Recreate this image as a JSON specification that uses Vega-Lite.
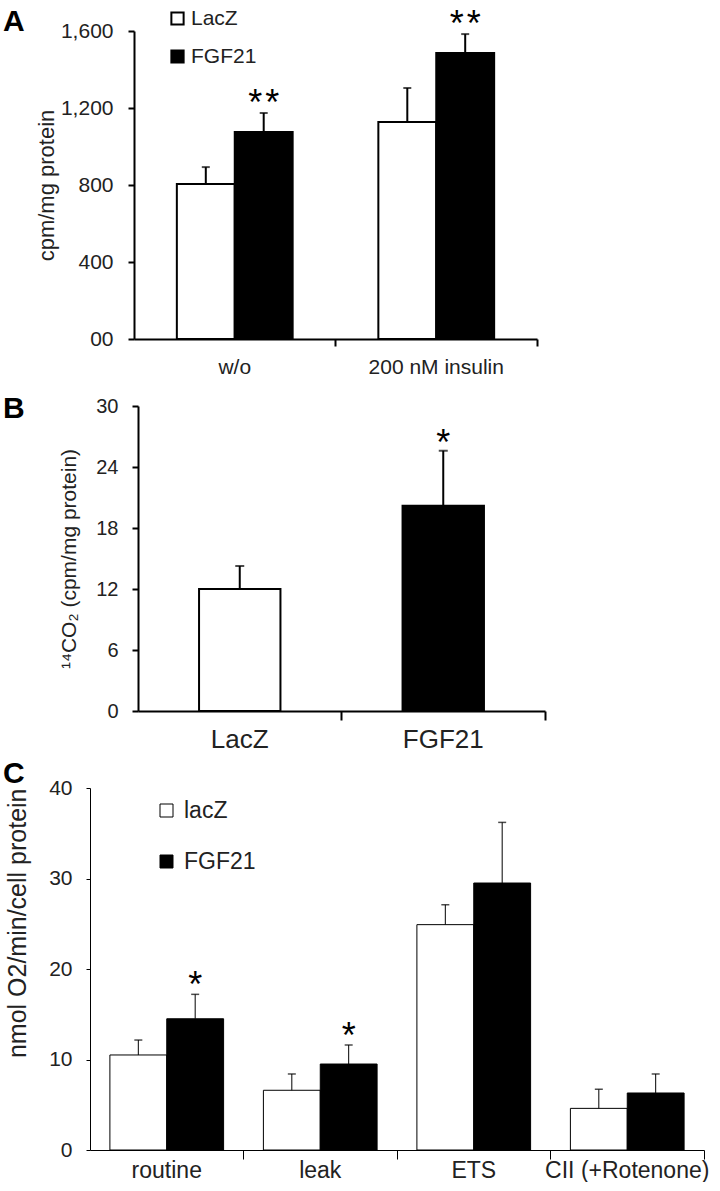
{
  "$schema": "https://vega.github.io/schema/vega-lite/v6.json",
  "padding": {"left": 3, "top": 0, "right": 0, "bottom": 0},
  "background": "white",
  "config": {
    "font": "Liberation Sans",
    "view": {"stroke": null},
    "axis": {"labelFont": "Liberation Sans", "titleFont": "Liberation Sans", "labelColor": "#222", "titleColor": "#222", "domainColor": "black", "tickColor": "black", "grid": false, "titleFontWeight": "normal"},
    "legend": {"labelFont": "Liberation Sans", "labelColor": "#222", "padding": 0},
    "title": {"font": "Liberation Sans", "fontWeight": "bold", "fontSize": 30, "anchor": "start", "frame": "group", "offset": 0, "color": "black"}
  },
  "resolve": {"scale": {"fill": "independent", "xOffset": "independent"}, "legend": {"fill": "independent"}},
  "columns": 1,
  "align": "none",
  "spacing": 0,
  "concat": [
    {
      "title": {"text": "A", "dx": -87, "dy": 41},
      "width": 447,
      "height": 339,
      "data": {"values": [
        {"cond": "w/o", "group": "LacZ", "mean": 805, "upper": 893, "sig": ""},
        {"cond": "w/o", "group": "FGF21", "mean": 1075, "upper": 1174, "sig": "*\u200a*"},
        {"cond": "200 nM insulin", "group": "LacZ", "mean": 1127, "upper": 1304, "sig": ""},
        {"cond": "200 nM insulin", "group": "FGF21", "mean": 1486, "upper": 1584, "sig": "*\u200a*"}
      ]},
      "encoding": {
        "x": {"field": "cond", "type": "nominal", "sort": ["w/o", "200 nM insulin"], "scale": {"paddingInner": 0, "paddingOuter": 0, "range": [44, 447]},
              "axis": {"title": null, "labelAngle": 0, "bandPosition": 1, "labelFontSize": 21, "tickSize": 7, "labelPadding": 10, "domainWidth": 2, "tickWidth": 2}},
        "xOffset": {"field": "group", "type": "nominal", "sort": ["LacZ", "FGF21"], "scale": {"paddingInner": 0, "paddingOuter": 0.74}}
      },
      "layer": [
        {"mark": {"type": "bar", "stroke": "black", "strokeWidth": 2},
         "encoding": {
           "y": {"field": "mean", "type": "quantitative", "scale": {"domain": [0, 1600], "nice": false, "range": [339, 31]},
                 "axis": {"values": [0, 400, 800, 1200, 1600], "offset": -44, "labelExpr": "datum.value == 0 ? '00' : format(datum.value, ',')", "title": "cpm/mg protein", "titleFontSize": 22, "labelFontSize": 21, "tickSize": 6, "labelPadding": 15, "titlePadding": 2, "domainWidth": 2, "tickWidth": 2}},
           "fill": {"field": "group", "type": "nominal", "scale": {"domain": ["LacZ", "FGF21"], "range": ["white", "black"]},
                    "legend": {"orient": "none", "legendX": 77, "legendY": 8, "title": null, "symbolType": "square", "symbolSize": 150, "symbolStrokeColor": "black", "symbolStrokeWidth": 2, "labelFontSize": 21, "rowPadding": 16, "labelOffset": 3}}
         }},
        {"mark": {"type": "rule", "strokeWidth": 2, "color": "black"},
         "encoding": {"y": {"field": "mean", "type": "quantitative"}, "y2": {"field": "upper"}}},
        {"mark": {"type": "tick", "orient": "horizontal", "size": 8, "thickness": 2, "color": "black"},
         "encoding": {"y": {"field": "upper", "type": "quantitative"}}},
        {"mark": {"type": "text", "fontSize": 36, "baseline": "alphabetic", "dy": 2, "color": "black"},
         "encoding": {"y": {"field": "upper", "type": "quantitative"}, "text": {"field": "sig"}}}
      ]
    },
    {
      "title": {"text": "B", "dx": -87, "dy": 51},
      "width": 455,
      "height": 334,
      "data": {"values": [
        {"group": "LacZ", "mean": 12.0, "upper": 14.26, "sig": ""},
        {"group": "FGF21", "mean": 20.2, "upper": 25.6, "sig": "*"}
      ]},
      "encoding": {
        "x": {"field": "group", "type": "nominal", "sort": ["LacZ", "FGF21"], "scale": {"paddingInner": 0, "paddingOuter": 0, "range": [48, 455]},
              "axis": {"title": null, "labelAngle": 0, "bandPosition": 1, "labelFontSize": 26, "tickSize": 9, "labelPadding": 6, "domainWidth": 2, "tickWidth": 2}}
      },
      "layer": [
        {"mark": {"type": "bar", "stroke": "black", "strokeWidth": 2, "width": {"band": 0.4}},
         "encoding": {
           "y": {"field": "mean", "type": "quantitative", "scale": {"domain": [0, 30], "nice": false, "range": [334, 29]},
                 "axis": {"values": [0, 6, 12, 18, 24, 30], "offset": -48, "title": "¹⁴CO₂ (cpm/mg protein)", "titleFontSize": 21, "labelFontSize": 20, "tickSize": 6, "labelPadding": 14, "titlePadding": 16, "domainWidth": 2, "tickWidth": 2}},
           "fill": {"field": "group", "type": "nominal", "scale": {"domain": ["LacZ", "FGF21"], "range": ["white", "black"]}, "legend": null}
         }},
        {"mark": {"type": "rule", "strokeWidth": 2, "color": "black"},
         "encoding": {"y": {"field": "mean", "type": "quantitative"}, "y2": {"field": "upper"}}},
        {"mark": {"type": "tick", "orient": "horizontal", "size": 9, "thickness": 2, "color": "black"},
         "encoding": {"y": {"field": "upper", "type": "quantitative"}}},
        {"mark": {"type": "text", "fontSize": 36, "baseline": "alphabetic", "dy": 4, "color": "black"},
         "encoding": {"y": {"field": "upper", "type": "quantitative"}, "text": {"field": "sig"}}}
      ]
    },
    {
      "title": {"text": "C", "dx": -87, "dy": 41},
      "width": 614,
      "height": 398,
      "data": {"values": [
        {"cond": "routine", "group": "lacZ", "mean": 10.5, "upper": 12.15, "sig": ""},
        {"cond": "routine", "group": "FGF21", "mean": 14.5, "upper": 17.2, "sig": "*"},
        {"cond": "leak", "group": "lacZ", "mean": 6.6, "upper": 8.4, "sig": ""},
        {"cond": "leak", "group": "FGF21", "mean": 9.5, "upper": 11.6, "sig": "*"},
        {"cond": "ETS", "group": "lacZ", "mean": 24.9, "upper": 27.1, "sig": ""},
        {"cond": "ETS", "group": "FGF21", "mean": 29.5, "upper": 36.2, "sig": ""},
        {"cond": "CII (+Rotenone)", "group": "lacZ", "mean": 4.6, "upper": 6.7, "sig": ""},
        {"cond": "CII (+Rotenone)", "group": "FGF21", "mean": 6.3, "upper": 8.4, "sig": ""}
      ]},
      "encoding": {
        "x": {"field": "cond", "type": "nominal", "sort": ["routine", "leak", "ETS", "CII (+Rotenone)"], "scale": {"paddingInner": 0, "paddingOuter": 0},
              "axis": {"title": null, "labelAngle": 0, "bandPosition": 1, "labelFontSize": 23, "tickSize": 9, "labelPadding": 0, "domainWidth": 1, "tickWidth": 1}},
        "xOffset": {"field": "group", "type": "nominal", "sort": ["lacZ", "FGF21"], "scale": {"paddingInner": 0, "paddingOuter": 0.35}}
      },
      "layer": [
        {"mark": {"type": "bar", "stroke": "black", "strokeWidth": 1},
         "encoding": {
           "y": {"field": "mean", "type": "quantitative", "scale": {"domain": [0, 40], "nice": false, "range": [398, 36]},
                 "axis": {"values": [0, 10, 20, 30, 40], "title": "nmol  O2/min/cell  protein", "titleFontSize": 25, "titleAnchor": "end", "labelFontSize": 21, "tickSize": 4, "labelPadding": 14, "titlePadding": 18, "domainWidth": 1, "tickWidth": 1}},
           "fill": {"field": "group", "type": "nominal", "scale": {"domain": ["lacZ", "FGF21"], "range": ["white", "black"]},
                    "legend": {"orient": "none", "legendX": 65, "legendY": 47, "title": null, "symbolType": "square", "symbolSize": 169, "symbolStrokeColor": "black", "symbolStrokeWidth": 1, "labelFontSize": 23, "rowPadding": 27, "labelOffset": 6}}
         }},
        {"mark": {"type": "rule", "strokeWidth": 1, "color": "black"},
         "encoding": {"y": {"field": "mean", "type": "quantitative"}, "y2": {"field": "upper"}}},
        {"mark": {"type": "tick", "orient": "horizontal", "size": 8, "thickness": 1.5, "color": "black"},
         "encoding": {"y": {"field": "upper", "type": "quantitative"}}},
        {"mark": {"type": "text", "fontSize": 36, "baseline": "alphabetic", "dy": 3, "color": "black"},
         "encoding": {"y": {"field": "upper", "type": "quantitative"}, "text": {"field": "sig"}}}
      ]
    }
  ]
}
